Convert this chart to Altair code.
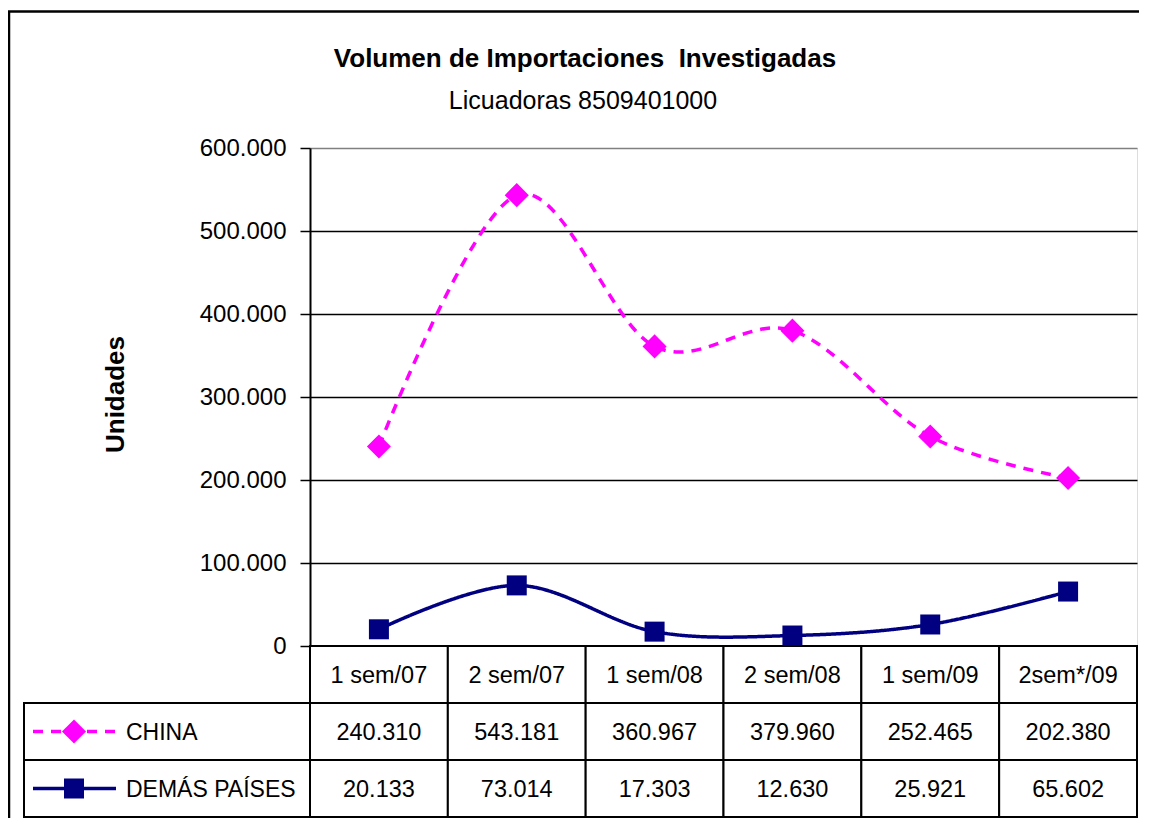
import altair as alt
import pandas as pd

# ---- data ----
cats = ["1 sem/07", "2 sem/07", "1 sem/08", "2 sem/08", "1 sem/09", "2sem*/09"]
series = ["CHINA", "DEMÁS PAÍSES"]
china = [240310, 543181, 360967, 379960, 252465, 202380]
demas = [20133, 73014, 17303, 12630, 25921, 65602]
y_ticks = [0, 100000, 200000, 300000, 400000, 500000, 600000]
table_rows = ["header", "CHINA", "DEMÁS PAÍSES"]
colors = ["#FF00FF", "#000080"]
shapes = ["diamond", "square"]
title_text = "Volumen de Importaciones\u00a0 Investigadas"
subtitle_text = "Licuadoras 8509401000"
y_title = "Unidades"

FONT = "Liberation Sans, Arial, Helvetica"

long = pd.DataFrame(
    [{"cat": c, "serie": series[0], "value": v} for c, v in zip(cats, china)]
    + [{"cat": c, "serie": series[1], "value": v} for c, v in zip(cats, demas)]
)
table = pd.DataFrame(
    [{"cat": c, "row": "header", "value": 0} for c in cats]
    + [{"cat": c, "row": series[0], "value": v} for c, v in zip(cats, china)]
    + [{"cat": c, "row": series[1], "value": v} for c, v in zip(cats, demas)]
)
leg = pd.DataFrame({"serie": series})
one = pd.DataFrame({"k": [0]})

x_band = alt.Scale(type="band", paddingInner=0, paddingOuter=0)
X = alt.X("cat:N", sort=cats, scale=x_band, axis=None, bandPosition=0.5)
Xcell = alt.X("cat:N", sort=cats, scale=x_band, axis=None)

fmt = "replace(format(datum.value, ','), ',', '.')"

Y = alt.Y(
    "value:Q",
    scale=alt.Scale(domain=[0, 600000], nice=False, zero=True),
    axis=alt.Axis(
        values=y_ticks,
        labelExpr=fmt,
        labelFont=FONT,
        labelFontSize=24,
        labelColor="black",
        labelPadding=14,
        tickSize=10,
        tickColor="black",
        tickWidth=1.5,
        domainColor="black",
        domainWidth=2,
        grid=True,
        gridColor={"condition": {"test": "datum.value >= 600000", "value": "#808080"}, "value": "black"},
        gridWidth=1.5,
        title=y_title,
        titleFont=FONT,
        titleFontSize=26,
        titleFontWeight="bold",
        titleColor="black",
        titleAngle=270,
        titleAlign="center",
        titleBaseline="middle",
        titleX=-195,
        titleY=246,
    ),
)
color = alt.Color("serie:N", scale=alt.Scale(domain=series, range=colors), legend=None)
dash = alt.StrokeDash("serie:N", scale=alt.Scale(domain=series, range=[[10, 8], [1, 0]]), legend=None)
shape = alt.Shape("serie:N", scale=alt.Scale(domain=series, range=shapes), legend=None)
size = alt.Size("serie:O", scale=alt.Scale(domain=series, range=[580, 400]), legend=None)

base = alt.Chart(long)
lines = base.mark_line(interpolate="cardinal", strokeWidth=3.5).encode(
    x=X, y=Y, color=color, strokeDash=dash, detail="serie:N"
)
pts = base.mark_point(filled=True, opacity=1).encode(
    x=X, y=Y, color=color, shape=shape, size=size
)
plot = alt.layer(lines, pts)

# ---- data table beneath the plot ----
row_scale = alt.Scale(type="band", domain=table_rows, range=[498, 669], paddingInner=0, paddingOuter=0)
Yrow = alt.Y("row:N", sort=table_rows, scale=row_scale, axis=None)
Yrow_c = alt.Y("row:N", sort=table_rows, scale=row_scale, axis=None, bandPosition=0.5)

tb = alt.Chart(table)
cells = tb.mark_rect(fill="white", stroke="black", strokeWidth=2).encode(x=Xcell, y=Yrow)
cell_text = tb.transform_calculate(
    label="datum.row == 'header' ? datum.cat : " + fmt
).mark_text(font=FONT, fontSize=23.5, color="black", align="center", baseline="middle", dy=1).encode(
    x=X, y=Yrow_c, text="label:N"
)

lg = alt.Chart(leg).transform_calculate(row="datum.serie")
leg_cells = lg.mark_rect(fill="white", stroke="black", strokeWidth=2).encode(
    x=alt.value(-286), x2=alt.value(0), y=Yrow
)
leg_lines = lg.mark_rule(strokeWidth=3.5).encode(
    x=alt.value(-277), x2=alt.value(-194), y=Yrow_c, color=color, strokeDash=dash
)
leg_pts = lg.mark_point(filled=True, opacity=1).encode(
    x=alt.value(-236), y=Yrow_c, color=color, shape=shape, size=size
)
leg_text = lg.mark_text(font=FONT, fontSize=23, color="black", align="left", baseline="middle", dy=1).encode(
    x=alt.value(-184), y=Yrow_c, text="serie:N"
)

# ---- chart frame and titles ----
border = alt.Chart(one).mark_rect(fill=None, stroke="black", strokeWidth=2.5).encode(
    x=alt.value(-301), x2=alt.value(900), y=alt.value(-136.5), y2=alt.value(760)
)
title = alt.Chart(one).mark_text(
    font=FONT, fontSize=26, fontWeight="bold", color="black", align="center", baseline="alphabetic"
).encode(x=alt.value(275), y=alt.value(-81), text=alt.value(title_text))
subtitle = alt.Chart(one).mark_text(
    font=FONT, fontSize=25, color="black", align="center", baseline="alphabetic"
).encode(x=alt.value(273), y=alt.value(-39), text=alt.value(subtitle_text))

tab = alt.layer(cells, cell_text, leg_cells, leg_lines, leg_pts, leg_text, border, title, subtitle)

chart = (
    alt.layer(plot, tab)
    .resolve_scale(y="independent")
    .properties(
        width=827,
        height=498,
        autosize=alt.AutoSizeParams(type="none"),
        padding={"left": 302, "top": 140, "right": 2, "bottom": 172},
    )
    .configure_view(stroke="#808080", strokeWidth=2)
    .configure(background="white")
)

chart.save("out.html", embed_options={"renderer": "svg", "actions": False})
